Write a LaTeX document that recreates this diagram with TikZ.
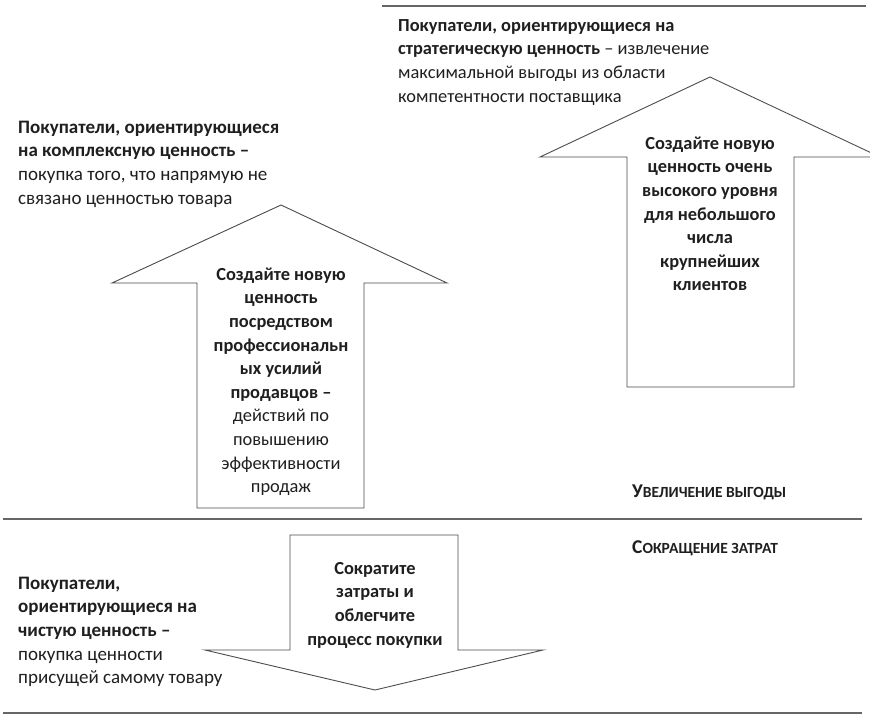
\documentclass[tikz,border=0pt]{standalone}
\usepackage{fontspec}
\setmainfont{Carlito}
\newcommand{\firststrut}{\rule{0pt}{14pt}}
\newcommand{\scs}[1]{{\fontsize{15.5}{18}\selectfont #1}}
\begin{document}
\begin{tikzpicture}[x=1pt,y=-1pt,
  rule/.style={draw=black!60, line width=1.3pt},
  arrowshape/.style={draw=black!70, line width=0.9pt, fill=white, line join=miter},
  txt/.style={inner sep=0pt, text=black!88, font=\fontsize{18.4}{23.6}\selectfont},
  bigtxt/.style={font=\fontsize{19}{23.6}\selectfont},
  lefttxt/.style={txt, anchor=north west, align=left},
  midtxt/.style={txt, anchor=north, align=center},
  label/.style={inner sep=0pt, text=black!88, anchor=base west, font=\fontsize{19.5}{22}\selectfont\bfseries}
]
\useasboundingbox (0,0) rectangle (870,718);
\fill[white] (0,0) rectangle (870,718);

% horizontal rules
\draw[rule] (382,6) -- (866,6);
\draw[rule] (3,519) -- (862,519);
\draw[rule] (3,713) -- (862,713);

% arrows
\draw[arrowshape] (197,508) -- (197,283) -- (112,283) -- (281,205) -- (447,283)
  -- (364,283) -- (364,508) -- cycle;
\draw[arrowshape] (627,387) -- (627,157) -- (540,157) -- (710,77) -- (880,157)
  -- (794,157) -- (794,387) -- cycle;
\draw[arrowshape] (290,535) -- (458,535) -- (458,650) -- (543,650) -- (375,690)
  -- (205,650) -- (290,650) -- cycle;

% texts
\node[lefttxt] (strat) at (398,17) {\firststrut\textbf{Покупатели, ориентирующиеся на}\\
  \textbf{стратегическую ценность} – извлечение\\
  максимальной выгоды из области\\
  компетентности поставщика};

\node[lefttxt, bigtxt] (compl) at (18,119) {\firststrut\textbf{Покупатели, ориентирующиеся}\\
  \textbf{на комплексную ценность –}\\
  покупка того, что напрямую не\\
  связано ценностью товара};

\node[midtxt] (leftarrowtxt) at (281,266) {\firststrut\textbf{Создайте новую}\\
  \textbf{ценность}\\ \textbf{посредством}\\ \textbf{профессиональн}\\
  \textbf{ых усилий}\\ \textbf{продавцов –}\\ действий по\\ повышению\\
  эффективности\\ продаж};

\node[midtxt] (rightarrowtxt) at (710,135) {\firststrut\textbf{Создайте новую}\\
  \textbf{ценность очень}\\ \textbf{высокого уровня}\\ \textbf{для небольшого}\\
  \textbf{числа}\\ \textbf{крупнейших}\\ \textbf{клиентов}};

\node[midtxt] (downarrowtxt) at (375,560) {\firststrut\textbf{Сократите}\\
  \textbf{затраты и}\\ \textbf{облегчите}\\ \textbf{процесс покупки}};

\node[lefttxt, bigtxt] (pure) at (18,575) {\firststrut\textbf{Покупатели,}\\
  \textbf{ориентирующиеся на}\\ \textbf{чистую ценность –}\\
  покупка ценности\\ присущей самому товару};

\node[label] (gain) at (632,497) {У\scs{ВЕЛИЧЕНИЕ ВЫГОДЫ}};
\node[label] (cost) at (632,553) {С\scs{ОКРАЩЕНИЕ ЗАТРАТ}};
\end{tikzpicture}
\end{document}
